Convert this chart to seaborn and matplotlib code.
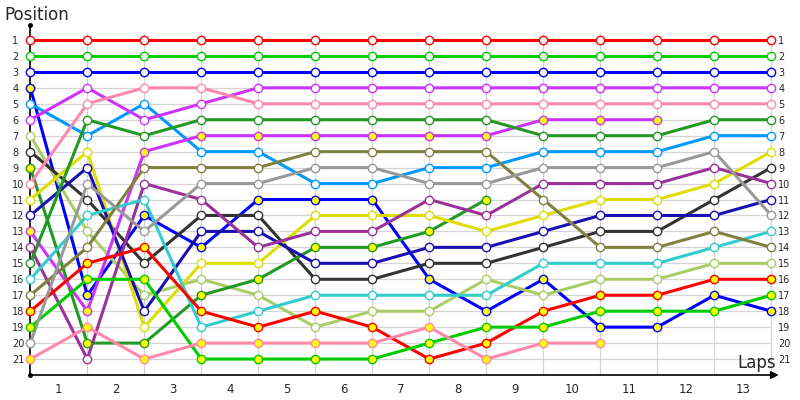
import numpy as np
import pandas as pd
import matplotlib.pyplot as plt
import seaborn as sns

nan = np.nan

# lap 0 = start grid, then laps 1..13
laps = [0, 1, 2, 3, 4, 5, 6, 7, 8, 9, 10, 11, 12, 13]
lap_labels = ["1", "2", "3", "4", "5", "6", "7", "8", "9", "10", "11", "12", "13"]
positions = [1, 2, 3, 4, 5, 6, 7, 8, 9, 10, 11, 12, 13, 14, 15, 16, 17, 18, 19, 20, 21]

# position of each car per lap (nan = retired)
red_a = [1, 1, 1, 1, 1, 1, 1, 1, 1, 1, 1, 1, 1, 1]
green_a = [2, 2, 2, 2, 2, 2, 2, 2, 2, 2, 2, 2, 2, 2]
blue_a = [3, 3, 3, 3, 3, 3, 3, 3, 3, 3, 3, 3, 3, 3]
blue_b = [4, 17, 12, 14, 11, 11, 11, 16, 18, 16, 19, 19, 17, 18]
skyblue = [5, 7, 5, 8, 8, 10, 10, 9, 9, 8, 8, 8, 7, 7]
violet_a = [6, 4, 6, 5, 4, 4, 4, 4, 4, 4, 4, 4, 4, 4]
lightgreen = [7, 13, 17, 16, 17, 19, 18, 18, 16, 17, 16, 16, 15, 15]
darkgray = [8, 11, 15, 12, 12, 16, 16, 15, 15, 14, 13, 13, 11, 9]
forest_b = [9, 20, 20, 17, 16, 14, 14, 13, 11, nan, nan, nan, nan, nan]
pink_a = [10, 5, 4, 4, 5, 5, 5, 5, 5, 5, 5, 5, 5, 5]
yellow_a = [11, 8, 19, 15, 15, 12, 12, 12, 13, 12, 11, 11, 10, 8]
navy = [12, 9, 18, 13, 13, 15, 15, 14, 14, 13, 12, 12, 12, 11]
violet_b = [13, 18, 8, 7, 7, 7, 7, 7, 7, 6, 6, 6, nan, nan]
purple = [14, 21, 10, 11, 14, 13, 13, 11, 12, 10, 10, 10, 9, 10]
forest_a = [15, 6, 7, 6, 6, 6, 6, 6, 6, 7, 7, 7, 6, 6]
turquoise = [16, 12, 11, 19, 18, 17, 17, 17, 17, 15, 15, 15, 14, 13]
olive = [17, 14, 9, 9, 9, 8, 8, 8, 8, 11, 14, 14, 13, 14]
red_b = [18, 15, 14, 18, 19, 18, 19, 21, 20, 18, 17, 17, 16, 16]
green_b = [19, 16, 16, 21, 21, 21, 21, 20, 19, 19, 18, 18, 18, 17]
gray = [20, 10, 13, 10, 10, 9, 9, 10, 10, 9, 9, 9, 8, 12]
pink_b = [21, 19, 21, 20, 20, 20, 20, 19, 21, 20, 20, nan, nan, nan]

W = "white"
Y = "#ffff00"
cars = [
    (red_a, "#ff0000", W), (green_a, "#00cc00", W), (blue_a, "#0000ff", W),
    (blue_b, "#0000ff", Y), (skyblue, "#0099ff", W), (violet_a, "#cc33ff", W),
    (lightgreen, "#aacc66", W), (darkgray, "#333333", W), (forest_b, "#229922", Y),
    (pink_a, "#ff88aa", W), (yellow_a, "#dddd00", W), (navy, "#1a0fb0", W),
    (violet_b, "#cc33ff", Y), (purple, "#993399", W), (forest_a, "#229922", W),
    (turquoise, "#33cccc", W), (olive, "#808040", W), (red_b, "#ff0000", Y),
    (green_b, "#00cc00", Y), (gray, "#999999", W), (pink_b, "#ff88aa", Y),
]

sns.set_style("white")
plt.rcParams['font.family'] = ['DejaVu Sans']

fig = plt.figure(figsize=(8, 4), dpi=100)
ax = fig.add_axes([30.3/800, 25/400, 13.1*57/800, 351/400])
ax.set_xlim(0, 13.1)
ax.set_ylim(22, 0)

# grid
ax.hlines(positions, 0, 13, color="#d4d4d4", lw=0.9, zorder=0)
ax.vlines(laps[1:], 0.55, 22, color="#d4d4d4", lw=0.9, zorder=0)

for vals, col, fill in cars:
    d = pd.DataFrame({"lap": laps, "pos": vals}).dropna()
    sns.lineplot(data=d, x="lap", y="pos", color=col, lw=2.2, ax=ax,
                 legend=False, zorder=2, clip_on=False)
for vals, col, fill in cars:
    d = pd.DataFrame({"lap": laps, "pos": vals}).dropna()
    sns.scatterplot(data=d, x="lap", y="pos", color=fill, edgecolor=col,
                    s=36, linewidth=1.0, ax=ax, legend=False, zorder=3,
                    clip_on=False)

for s in ax.spines.values():
    s.set_visible(False)

# axis lines
ax.plot([0, 0], [0.05, 22], color="black", lw=1.2, clip_on=False, zorder=1)
ax.plot([0], [0.05], "o", color="black", ms=2.5, clip_on=False, zorder=4)
ax.plot([0], [22], "o", color="black", ms=2.5, clip_on=False, zorder=4)
ax.annotate("", xy=(13.13, 22), xytext=(0, 22),
            arrowprops=dict(arrowstyle="-|>", color="black", lw=1.2,
                            mutation_scale=11, shrinkA=0, shrinkB=0),
            annotation_clip=False, zorder=4)

ax.set_xticks([i + 0.5 for i in range(13)], lap_labels, fontsize=8.5)
ax.set_yticks(positions, [str(p) for p in positions], fontsize=7)
ax.tick_params(axis="x", length=0, pad=6)
ax.tick_params(axis="y", length=0, pad=13)
for t in ax.get_yticklabels():
    t.set_horizontalalignment("left")
ax.set_xlabel("")
ax.set_ylabel("")

ax2 = ax.twinx()
ax2.set_ylim(22, 0)
ax2.set_yticks(positions, [str(p) for p in positions], fontsize=7)
ax2.tick_params(axis="y", length=0, pad=1)
for s in ax2.spines.values():
    s.set_visible(False)

fig.text(4/800, 1 - 15/400, "Position", fontsize=12, va="center", ha="left")
fig.text(776/800, 1 - 363/400, "Laps", fontsize=12, va="center", ha="right")

plt.savefig("out.png", dpi=100)
